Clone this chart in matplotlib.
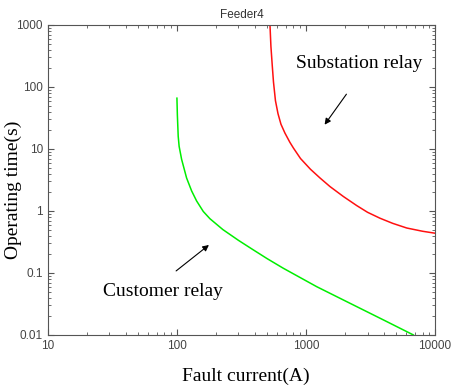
import numpy as np
import matplotlib.pyplot as plt
from matplotlib.ticker import FixedLocator, FixedFormatter, LogLocator, NullFormatter

# Courbes (courant de défaut en A, temps en s)
customer_current = [100, 100.8, 102.3, 104, 108.7, 118.8, 130, 142, 160, 180, 227,
                    300, 379, 500, 667, 1211, 2193, 3974, 6790]
customer_time = [65.8, 35, 16, 11, 6.8, 3.4, 2.1, 1.45, 0.98, 0.75, 0.50,
                 0.335, 0.245, 0.17, 0.119, 0.060, 0.0324, 0.0175, 0.0100]

substation_current = [526, 535, 548, 560, 580, 607, 640, 687, 750, 800, 907, 1083,
                      1284, 1535, 1947, 2472, 3000, 3748, 4700, 6040, 8000, 10000]
substation_time = [1000, 450, 220, 120, 60, 37, 25, 18, 12.8, 10.3, 7.0, 4.7,
                   3.4, 2.47, 1.71, 1.22, 0.95, 0.762, 0.63, 0.53, 0.47, 0.437]

xticks = [10, 100, 1000, 10000]
xtick_labels = ['10', '100', '1000', '10000']
yticks = [0.01, 0.1, 1, 10, 100, 1000]
ytick_labels = ['0.01', '0.1', '1', '10', '100', '1000']

serif = 'Liberation Serif'
sans = 'Liberation Sans'

fig = plt.figure(figsize=(4.56, 3.89), dpi=100)
ax = fig.add_axes([0.105, 0.139, 0.849, 0.797])

ax.plot(customer_current, customer_time, color='#00ee00', linewidth=1.1)
ax.plot(substation_current, substation_time, color='#ff1010', linewidth=1.1)

ax.set_xscale('log')
ax.set_yscale('log')
ax.set_xlim(10, 10000)
ax.set_ylim(0.01, 1000)

ax.xaxis.set_major_locator(FixedLocator(xticks))
ax.xaxis.set_major_formatter(FixedFormatter(xtick_labels))
ax.yaxis.set_major_locator(FixedLocator(yticks))
ax.yaxis.set_major_formatter(FixedFormatter(ytick_labels))
ax.xaxis.set_minor_locator(LogLocator(base=10, subs=np.arange(2, 10), numticks=20))
ax.yaxis.set_minor_locator(LogLocator(base=10, subs=np.arange(2, 10), numticks=20))
ax.xaxis.set_minor_formatter(NullFormatter())
ax.yaxis.set_minor_formatter(NullFormatter())

ax.tick_params(which='both', direction='in', top=True, right=True,
               colors='#555555', labelcolor='#444444', labelsize=8.5)
ax.tick_params(which='major', length=4, width=0.8)
ax.tick_params(which='minor', length=2, width=0.6)
for lab in ax.get_xticklabels() + ax.get_yticklabels():
    lab.set_family(sans)
for s in ax.spines.values():
    s.set_color('#555555')
    s.set_linewidth(0.8)

ax.set_title('Feeder4', fontsize=8.5, color='#333333', family=sans, pad=5)
ax.set_xlabel('Fault current(A)', family=serif, fontsize=14)
ax.set_ylabel('Operating time(s)', family=serif, fontsize=14)
ax.xaxis.set_label_coords(0.512, -0.106)
ax.yaxis.set_label_coords(-0.067, 0.468)

ax.annotate('', xy=(1355, 22.6), xytext=(2118, 83),
            arrowprops=dict(arrowstyle='-|>', color='black', lw=0.8, mutation_scale=9))
ax.text(2576, 235, 'Substation relay', family=serif, fontsize=14,
        ha='center', va='center')

ax.annotate('', xy=(184, 0.301), xytext=(94.8, 0.101),
            arrowprops=dict(arrowstyle='-|>', color='black', lw=0.8, mutation_scale=9))
ax.text(77.9, 0.051, 'Customer relay', family=serif, fontsize=14,
        ha='center', va='center')

plt.savefig('out.png', dpi=100)
